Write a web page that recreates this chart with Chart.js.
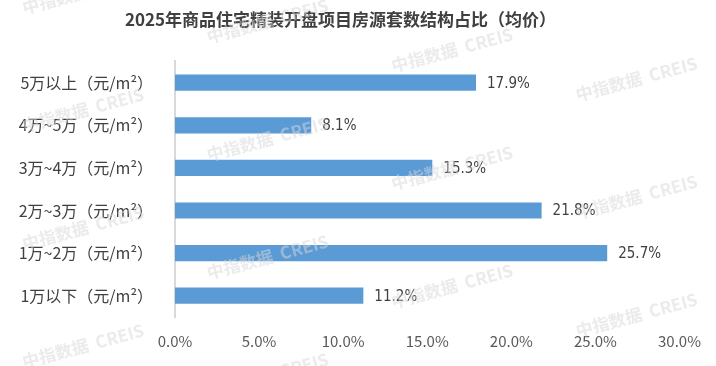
<!DOCTYPE html>
<html>
<head>
<meta charset="utf-8">
<script src="https://cdn.jsdelivr.net/npm/chart.js@4/dist/chart.umd.min.js"></script>
<style>
  html, body { margin: 0; padding: 0; background: #fff; }
  #wrap { width: 716px; height: 366px; position: relative; }
</style>
</head>
<body>
<div id="wrap"><canvas id="chart-share"></canvas></div>
<script>
var categories = ["5万以上（元/m²）", "4万~5万（元/m²）", "3万~4万（元/m²）",
                  "2万~3万（元/m²）", "1万~2万（元/m²）", "1万以下（元/m²）"];
var shares = [17.9, 8.1, 15.3, 21.8, 25.7, 11.2];
var xTicks = [0, 5, 10, 15, 20, 25, 30];

var cjk = "'Noto Sans CJK SC', 'Noto Sans', sans-serif";

// value labels at the end of each bar
var valueLabels = {
    id: "valueLabels",
    afterDatasetsDraw: function (chart) {
        var ctx = chart.ctx;
        var meta = chart.getDatasetMeta(0);
        ctx.save();
        ctx.font = "15px 'Liberation Sans Narrow', 'DejaVu Sans Condensed', sans-serif";
        ctx.fillStyle = "#404040";
        ctx.textAlign = "left";
        ctx.textBaseline = "middle";
        meta.data.forEach(function (bar, i) {
            ctx.fillText(shares[i].toFixed(1) + "%", bar.x + 11, bar.y + 1);
        });
        ctx.restore();
    }
};

// "中指数据 CREIS" watermark grid
var watermark = {
    id: "watermark",
    afterDraw: function (chart) {
        var ctx = chart.ctx;
        ctx.save();
        ctx.font = "bold 17px " + cjk;
        ctx.fillStyle = "rgba(215,215,215,0.5)";
        ctx.textAlign = "center";
        ctx.textBaseline = "middle";
        for (var c = 0; c < 4; c++) {
            for (var r = 0; r < 5; r++) {
                var x = 83 + 184.5 * c;
                var y = -8 + 29 * c + 118 * r;
                ctx.save();
                ctx.translate(x, y);
                ctx.rotate(-15 * Math.PI / 180);
                ctx.fillText("中指数据  CREIS", 0, 0);
                ctx.restore();
            }
        }
        ctx.restore();
    }
};

new Chart(document.getElementById("chart-share"), {
    type: "bar",
    data: {
        labels: categories,
        datasets: [{
            label: "占比",
            data: shares,
            backgroundColor: "#5B9BD5",
            borderWidth: 0,
            categoryPercentage: 1.0,
            barPercentage: 0.38
        }]
    },
    options: {
        indexAxis: "y",
        responsive: true,
        maintainAspectRatio: false,
        animation: false,
        layout: { padding: { left: 0, right: 35, top: 0, bottom: 0 } },
        plugins: {
            legend: { display: false },
            tooltip: { enabled: false },
            title: {
                display: true,
                text: "2025年商品住宅精装开盘项目房源套数结构占比（均价）",
                color: "#404040",
                font: { family: cjk, size: 17, weight: "bold" },
                padding: { top: 9, bottom: 32 }
            }
        },
        scales: {
            x: {
                min: 0,
                max: 30,
                afterBuildTicks: function (s) {
                    s.ticks = xTicks.map(function (v) { return { value: v }; });
                },
                afterFit: function (s) { s.height = 49; },
                grid: { display: false, drawTicks: false },
                border: { display: false },
                ticks: {
                    padding: 15,
                    color: "#595959",
                    font: { family: cjk, size: 15 },
                    callback: function (v) { return v.toFixed(1) + "%"; }
                }
            },
            y: {
                afterFit: function (s) { s.width = 175; },
                grid: { display: false, drawTicks: false },
                border: { display: true, color: "#d9d9d9", width: 2 },
                ticks: {
                    padding: 22,
                    color: "#404040",
                    font: { family: cjk, size: 16 }
                }
            }
        }
    },
    plugins: [valueLabels, watermark]
});
</script>
</body>
</html>
